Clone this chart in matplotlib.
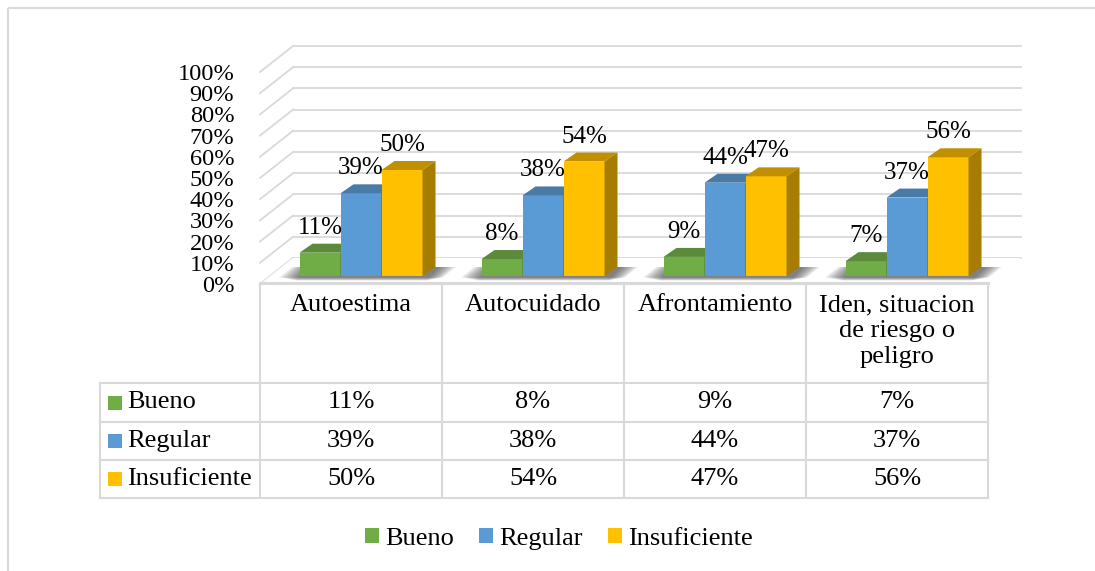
import matplotlib
matplotlib.use("Agg")
import matplotlib.pyplot as plt
from matplotlib.patches import Rectangle, Polygon, Patch

plt.rcParams['font.family'] = ['Liberation Serif', 'DejaVu Serif']

# datos
categorias = ["Autoestima", "Autocuidado", "Afrontamiento",
              "Iden, situacion\nde riesgo o\npeligro"]
series = ["Bueno", "Regular", "Insuficiente"]
bueno = [11, 8, 9, 7]
regular = [39, 38, 44, 37]
insuficiente = [50, 54, 47, 56]
valores = [bueno, regular, insuficiente]
yticks = list(range(0, 101, 10))

colores = ["#70AD47", "#5B9BD5", "#FFC000"]
techo = ["#5A8A3A", "#4A7BA7", "#C09000"]
lado = ["#4E7A30", "#3F6A92", "#A67D00"]
gris = "#D9D9D9"

FW, FH = 1095, 571
fig = plt.figure(figsize=(FW / 100, FH / 100), dpi=100)

# ejes de fondo en pixeles: borde, tabla y leyenda
bg = fig.add_axes([0, 0, 1, 1])
bg.set_xlim(0, FW)
bg.set_ylim(FH, 0)
bg.axis('off')
bg.add_patch(Rectangle((8, 8), 1200, 700, fill=False, ec=gris, lw=1.5))

# ejes del grafico (plano frontal)
L, T, W, H = 260, 72, 728, 212
n = len(categorias)
ax = fig.add_axes([L / FW, (FH - T - H) / FH, W / FW, H / FH])
ax.patch.set_visible(False)
ax.set_xlim(-0.5, n - 0.5)
ax.set_ylim(0, 100)
for s in ax.spines.values():
    s.set_visible(False)
ax.set_xticks([])
ax.set_yticks(yticks)
ax.set_yticklabels([f"{v}%" for v in yticks], fontsize=17.6)
ax.tick_params(axis='y', length=0, pad=18.5)

px_x = W / n
px_y = H / 100.0
def dx(p):
    return p / px_x
def dy(p):
    return p / px_y

DX, DY = dx(33), dy(26)
x0, x1 = -0.5, n - 0.5

# piso
ax.add_patch(Polygon([(x0, 0), (x1, 0), (x1 + DX, DY), (x0 + DX, DY)],
                     closed=True, fc="white", ec="none", clip_on=False, zorder=1))
ax.plot([x0, x1], [dy(1), dy(1)], color=gris, lw=2.2, clip_on=False, zorder=1)

# paredes
for v in yticks:
    ax.plot([x0 + DX, x1 + DX], [v + DY, v + DY], color=gris, lw=1.3,
            clip_on=False, zorder=0.5)
    ax.plot([x0, x0 + DX], [v, v + DY], color=gris, lw=1.3, clip_on=False, zorder=0.5)

# barras 3D
bw = 41 / px_x
bx, by = dx(10), dy(8)
ddx, ddy = dx(13), dy(9)
for i in range(n):
    left = i - 1.5 * bw + bx
    right = left + 3 * bw
    # sombra
    for k in range(7):
        e = dx(20 - 2.6 * k)
        h = dy(1.5 + 0.5 * k)
        ax.add_patch(Polygon([(left - e, by - h), (right + e, by - h),
                              (right + e + ddx, by + ddy), (left - e + ddx, by + ddy)],
                             closed=True, fc="#303030", ec="none", alpha=0.12,
                             clip_on=False, zorder=2))
    for j in range(len(series)):
        v = valores[j][i]
        xa = left + j * bw
        xb = xa + bw
        ax.add_patch(Rectangle((xa, by), bw, v, fc=colores[j], ec="none",
                               clip_on=False, zorder=3))
        ax.add_patch(Polygon([(xa, by + v), (xb, by + v), (xb + ddx, by + v + ddy),
                              (xa + ddx, by + v + ddy)], closed=True, fc=techo[j],
                             ec="none", clip_on=False, zorder=3))
        ax.add_patch(Polygon([(xb, by), (xb + ddx, by + ddy), (xb + ddx, by + v + ddy),
                              (xb, by + v)], closed=True, fc=lado[j], ec="none",
                             clip_on=False, zorder=3))
        ax.text(xa + bw / 2, by + v + ddy + dy(16), f"{v}%", ha="center", va="center",
                fontsize=18, zorder=5, clip_on=False)

# tabla de datos
col_x = [L + k * px_x for k in range(n + 1)]
head_top = 284
row_h = [383, 422, 460, 498]
lbl_left = 100
tkw = dict(color=gris, lw=1.5)
bg.plot([col_x[0], col_x[-1]], [head_top, head_top], **tkw)
for yv in row_h:
    bg.plot([lbl_left, col_x[-1]], [yv, yv], **tkw)
for xv in col_x:
    bg.plot([xv, xv], [head_top, row_h[-1]], **tkw)
bg.plot([lbl_left, lbl_left], [row_h[0], row_h[-1]], **tkw)

for i, c in enumerate(categorias):
    bg.text((col_x[i] + col_x[i + 1]) / 2, 294, c, ha="center", va="top",
            fontsize=19, linespacing=1.25)

for j, s in enumerate(series):
    yc = (row_h[j] + row_h[j + 1]) / 2
    bg.add_patch(Rectangle((108, yc - 7), 14, 14, fc=colores[j], ec="none"))
    bg.text(127, yc, s, ha="left", va="center", fontsize=19)
    for i in range(n):
        bg.text((col_x[i] + col_x[i + 1]) / 2, yc, f"{valores[j][i]}%",
                ha="center", va="center", fontsize=19)

# leyenda
handles = [Patch(fc=colores[j], ec="none", label=series[j]) for j in range(len(series))]
fig.legend(handles=handles, loc="center", bbox_to_anchor=(559 / FW, (FH - 539) / FH),
           ncol=3, frameon=False, fontsize=19, handlelength=0.53, handleheight=0.53,
           handletextpad=0.23, columnspacing=0.95)

fig.savefig("out.png", dpi=100)
